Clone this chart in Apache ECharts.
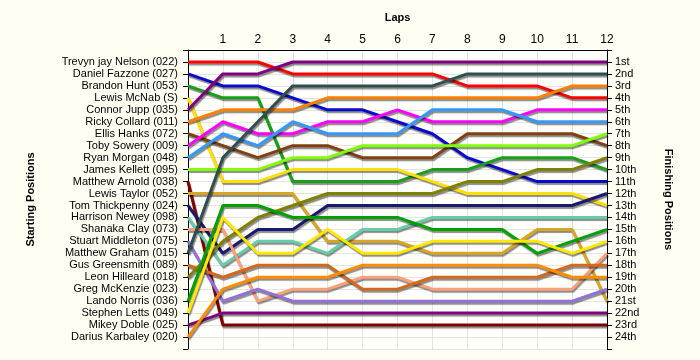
<!DOCTYPE html>
<html><head><meta charset="utf-8">
<script src="https://cdn.jsdelivr.net/npm/echarts@6/dist/echarts.min.js"></script>
<style>html,body{margin:0;padding:0;background:#FEFEF3;}#c{width:700px;height:360px;}</style>
</head><body><div id="c"></div>
<script>
const laps = [0,1,2,3,4,5,6,7,8,9,10,11,12];
const startNames = ["Trevyn jay Nelson (022)","Daniel Fazzone (027)","Brandon Hunt (053)","Lewis McNab (S)","Connor Jupp (035)","Ricky Collard (011)","Ellis Hanks (072)","Toby Sowery (009)","Ryan Morgan (048)","James Kellett (095)","Matthew Arnold (038)","Lewis Taylor (052)","Tom Thickpenny (024)","Harrison Newey (098)","Shanaka Clay (073)","Stuart Middleton (075)","Matthew Graham (015)","Gus Greensmith (089)","Leon Hilleard (018)","Greg McKenzie (023)","Lando Norris (036)","Stephen Letts (049)","Mikey Doble (025)","Darius Karbaley (020)"];
const finishLabels = ["1st","2nd","3rd","4th","5th","6th","7th","8th","9th","10th","11th","12th","13th","14th","15th","16th","17th","18th","19th","20th","21st","22nd","23rd","24th"];

const trevyn   = [1,1,1,2,2,2,2,2,3,3,3,4,4];
const daniel   = [2,3,3,4,5,5,6,7,9,10,11,11,11];
const brandon  = [3,4,4,11,11,11,11,10,10,9,9,9,10];
const mcnab    = [4,11,11,10,10,10,10,11,12,12,12,12,13];
const connor   = [5,2,2,1,1,1,1,1,1,1,1,1,1];
const ricky    = [6,5,5,5,4,4,4,4,4,4,4,3,3];
const ellis    = [7,8,9,8,8,9,9,9,7,7,7,7,8];
const toby     = [8,6,7,7,6,6,5,6,6,6,5,5,5];
const ryan     = [9,7,8,6,7,7,7,5,5,5,6,6,6];
const james    = [10,10,10,9,9,8,8,8,8,8,8,8,7];
const arnold   = [11,23,23,23,23,23,23,23,23,23,23,23,23];
const taylor   = [12,12,12,12,16,16,16,17,17,17,15,15,21];
const tom      = [13,17,15,15,13,13,13,13,13,13,13,13,12];
const harrison = [14,18,16,16,17,15,15,14,14,14,14,14,14];
const shanaka  = [15,15,21,20,20,19,19,20,20,20,20,20,17];
const stuart   = [16,21,20,21,21,21,21,21,21,21,21,21,20];
const graham   = [17,9,6,3,3,3,3,3,2,2,2,2,2];
const gus      = [18,19,18,18,18,20,20,19,19,19,19,18,18];
const leon     = [19,16,14,13,12,12,12,12,11,11,10,10,9];
const lando    = [21,13,13,14,14,14,14,15,15,15,17,16,15];
const stephen  = [22,14,17,17,15,17,17,16,16,16,16,17,16];
const mikey    = [23,22,22,22,22,22,22,22,22,22,22,22,22];
const darius   = [24,20,19,19,19,18,18,18,18,18,18,19,19];

const drivers = [
  ["Trevyn jay Nelson", trevyn, "#FF0000"],
  ["Daniel Fazzone", daniel, "#0A0ACD"],
  ["Brandon Hunt", brandon, "#16A016"],
  ["Lewis McNab", mcnab, "#FFE000"],
  ["Connor Jupp", connor, "#800080"],
  ["Ricky Collard", ricky, "#FF8000"],
  ["Ellis Hanks", ellis, "#804010"],
  ["Toby Sowery", toby, "#FF00FF"],
  ["Ryan Morgan", ryan, "#3399FF"],
  ["James Kellett", james, "#7FFF00"],
  ["Matthew Arnold", arnold, "#800000"],
  ["Lewis Taylor", taylor, "#DAA520"],
  ["Tom Thickpenny", tom, "#191970"],
  ["Harrison Newey", harrison, "#66CDAA"],
  ["Shanaka Clay", shanaka, "#FFA07A"],
  ["Stuart Middleton", stuart, "#9370DB"],
  ["Matthew Graham", graham, "#2F4F4F"],
  ["Gus Greensmith", gus, "#D2691E"],
  ["Leon Hilleard", leon, "#808000"],
  ["Lando Norris", lando, "#00A000"],
  ["Stephen Letts", stephen, "#FFE800"],
  ["Mikey Doble", mikey, "#800080"],
  ["Darius Karbaley", darius, "#FF8C00"]
];

const font = "Liberation Sans, Arial, sans-serif";
const chart = echarts.init(document.getElementById('c'), null, {renderer:'canvas'});
chart.setOption({
  backgroundColor: '#FEFEF3',
  animation: false,
  grid: {left: 188, right: 93, top: 50, bottom: 11, show: true, backgroundColor: '#FFFFFB', borderWidth: 0},
  xAxis: {
    type: 'value', position: 'top', min: 0, max: 12, interval: 1,
    name: 'Laps', nameLocation: 'middle', nameGap: 27,
    nameTextStyle: {fontFamily: font, fontSize: 11, fontWeight: 'bold', color: '#000'},
    axisLine: {show: true, lineStyle: {color: '#000', width: 1}},
    axisTick: {show: false},
    axisLabel: {fontFamily: font, fontSize: 12, color: '#000', margin: 4,
      formatter: v => (v === 0 ? '' : String(v))},
    splitLine: {show: true, lineStyle: {color: '#E4E4E4', width: 1}}
  },
  yAxis: [{
    type: 'value', position: 'left', min: 0, max: 25, interval: 1, inverse: true,
    name: 'Starting Positions', nameLocation: 'middle', nameGap: 152, nameRotate: 90,
    nameTextStyle: {fontFamily: font, fontSize: 11, fontWeight: 'bold', color: '#000'},
    axisLine: {show: true, onZero: false, lineStyle: {color: '#000', width: 1}},
    axisTick: {show: true, length: 5, lineStyle: {color: '#000'}},
    axisLabel: {fontFamily: font, fontSize: 11, color: '#000', margin: 10,
      formatter: v => (v >= 1 && v <= 24 ? startNames[v - 1] : '')},
    splitLine: {show: true, lineStyle: {color: '#E4E4E4', width: 1}}
  }, {
    type: 'value', position: 'right', min: 0, max: 25, interval: 1, inverse: true,
    name: 'Finishing Positions', nameLocation: 'middle', nameGap: 56, nameRotate: -90,
    nameTextStyle: {fontFamily: font, fontSize: 11, fontWeight: 'bold', color: '#000'},
    axisLine: {show: true, onZero: false, lineStyle: {color: '#000', width: 1}},
    axisTick: {show: true, length: 5, lineStyle: {color: '#000'}},
    axisLabel: {fontFamily: font, fontSize: 11, color: '#000', margin: 8,
      formatter: v => (v >= 1 && v <= 24 ? finishLabels[v - 1] : '')},
    splitLine: {show: false}
  }],
  series: drivers.map(d => ({
    name: d[0], type: 'line', yAxisIndex: 0, symbol: 'none',
    data: laps.map((l, i) => [l, d[1][i]]),
    lineStyle: {color: d[2], width: 3, shadowColor: 'rgba(0,0,0,0.45)', shadowOffsetX: 1, shadowOffsetY: 2, shadowBlur: 1},
    itemStyle: {color: d[2]}
  }))
});
</script>
</body></html>
